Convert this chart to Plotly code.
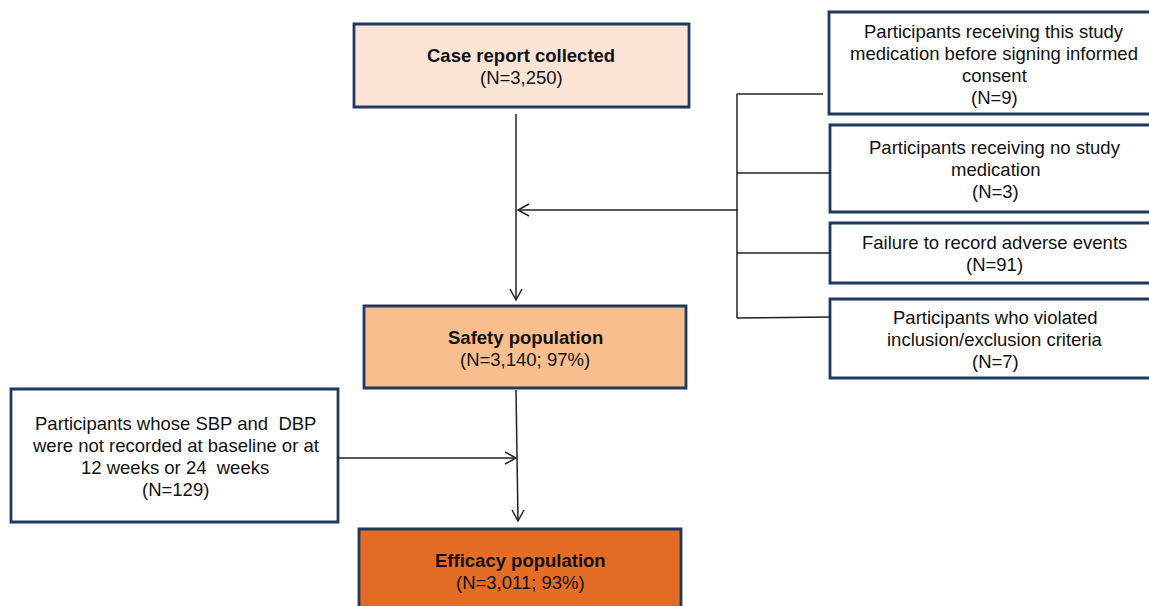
import plotly.graph_objects as go

# ---- content ----
box_titles = ["Case report collected", "Safety population", "Efficacy population"]
box_counts = ["(N=3,250)", "(N=3,140; 97%)", "(N=3,011; 93%)"]
excl_texts = [
    ["Participants receiving this study", "medication before signing informed", "consent", "(N=9)"],
    ["Participants receiving no study", "medication", "(N=3)"],
    ["Failure to record adverse events", "(N=91)"],
    ["Participants who violated", "inclusion/exclusion criteria", "(N=7)"],
]
excl2_text = ["Participants whose SBP and  DBP", "were not recorded at baseline or at",
              "12 weeks or 24  weeks", "(N=129)"]

# ---- geometry (pixels) ----
main_boxes = [(354, 24, 689, 107), (364, 306, 686, 388), (359, 529, 681, 640)]
main_fills = ["#FCE4D5", "#F8BE8D", "#E46C24"]
main_text_pos = [(521, 66), (525, 348), (520, 571)]
excl_boxes = [(829, 12, 1160, 114), (830, 125, 1160, 212), (830, 223, 1160, 283), (830, 299, 1160, 378)]
excl_text_pos = [(994, 64), (995, 169), (994, 253.5), (995, 339)]
excl2_box = (11, 389, 338, 522)
excl2_pos = (175, 456)
LINE_H = 22

BORDER = "#1F3A60"
LINE = "#222222"
FONT = "Liberation Sans, Arial, sans-serif"
FS = 18.5

fig = go.Figure()
shapes = []
annotations = []


def rect(b, fill):
    shapes.append(dict(type="rect", xref="x", yref="y", x0=b[0], y0=b[1], x1=b[2], y1=b[3],
                       line=dict(color=BORDER, width=2.8), fillcolor=fill, layer="below"))


def seg(x0, y0, x1, y1):
    shapes.append(dict(type="line", xref="x", yref="y", x0=x0, y0=y0, x1=x1, y1=y1,
                       line=dict(color=LINE, width=1.5)))


def chevron(pts):
    path = "M {} {} L {} {} L {} {}".format(*pts[0], *pts[1], *pts[2])
    shapes.append(dict(type="path", xref="x", yref="y", path=path,
                       line=dict(color=LINE, width=1.5)))


def text_block(cx, cy, lines, bold_first=False):
    n = len(lines)
    for i, ln in enumerate(lines):
        y = cy + (i - (n - 1) / 2) * LINE_H
        t = f"<b>{ln}</b>" if (bold_first and i == 0) else ln
        annotations.append(dict(x=cx, y=y, xref="x", yref="y", showarrow=False,
                                text=t, align="center", yanchor="middle",
                                font=dict(family=FONT, size=FS, color="#111111")))


for b, f in zip(main_boxes, main_fills):
    rect(b, f)
for b in excl_boxes:
    rect(b, "white")
rect(excl2_box, "white")

for (tx, ty), t, c in zip(main_text_pos, box_titles, box_counts):
    text_block(tx, ty, [t, c], bold_first=True)
for (tx, ty), t in zip(excl_text_pos, excl_texts):
    text_block(tx, ty, t)
text_block(excl2_pos[0], excl2_pos[1], excl2_text)

# connectors
seg(516, 114, 516, 300)
chevron([(510, 289), (516, 300), (522, 289)])
seg(738, 210, 518, 210)
chevron([(529, 204), (518, 210), (529, 216)])
seg(737, 94, 737, 318)
seg(737, 94, 823, 94)
seg(737, 173, 830, 173)
seg(737, 253, 830, 253)
seg(737, 318, 830, 317)
seg(516, 390, 518, 521)
chevron([(512, 510), (518, 521), (524, 510)])
seg(338, 458, 516, 458)
chevron([(505, 452), (516, 458), (505, 464)])

fig.update_layout(
    width=1149, height=606,
    margin=dict(l=0, r=0, t=0, b=0),
    paper_bgcolor="white", plot_bgcolor="white",
    xaxis=dict(range=[0, 1149], visible=False, fixedrange=True),
    yaxis=dict(range=[606, 0], visible=False, fixedrange=True),
    shapes=shapes, annotations=annotations, showlegend=False,
)
fig.write_html("out.html", config={"displayModeBar": False},
               post_script="document.body.style.margin='0';document.body.style.overflow='hidden';")
